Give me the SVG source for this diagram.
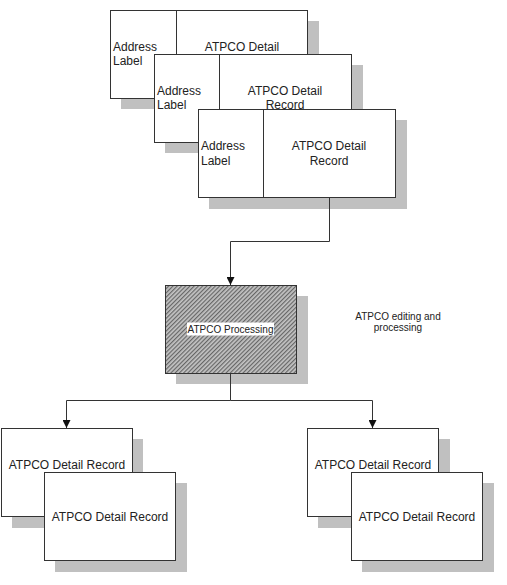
<svg xmlns="http://www.w3.org/2000/svg" width="507" height="585" viewBox="0 0 507 585">
  <defs>
    <style>
      .card { fill: #ffffff; stroke: #333333; stroke-width: 1; }
      .shadow { fill: #c0c0c0; stroke: none; }
      .div { stroke: #333333; stroke-width: 1; }
      .t { font-family: "Liberation Sans", Arial, sans-serif; font-size: 12px; fill: #222222; }
      .ts { font-family: "Liberation Sans", Arial, sans-serif; font-size: 10px; fill: #222222; }
      .wire { fill: none; stroke: #333333; stroke-width: 1; }
    </style>
    <pattern id="hatch" width="3" height="3" patternUnits="userSpaceOnUse" patternTransform="rotate(45)">
      <rect width="3" height="3" fill="#c4c4c4"/>
      <rect width="1.2" height="3" fill="#666666"/>
    </pattern>
    <marker id="arrow" viewBox="0 0 10 10" refX="10" refY="5" markerWidth="8" markerHeight="8" markerUnits="userSpaceOnUse" orient="auto">
      <path d="M0,0 L10,5 L0,10 Z" fill="#111111"/>
    </marker>
  </defs>

  <!-- input record stack -->
  <g id="input-record-1">
    <rect class="shadow" x="121" y="21" width="198" height="88"/>
    <rect class="card" x="110.5" y="10.5" width="197" height="88"/>
    <line class="div" x1="176.5" y1="10.5" x2="176.5" y2="98.5"/>
    <text class="t" x="113" y="51">Address</text>
    <text class="t" x="113" y="65">Label</text>
    <text class="t" x="242" y="51" text-anchor="middle">ATPCO Detail</text>
  </g>
  <g id="input-record-2">
    <rect class="shadow" x="165" y="65" width="198" height="88"/>
    <rect class="card" x="154.5" y="54.5" width="197" height="88"/>
    <line class="div" x1="219.5" y1="54.5" x2="219.5" y2="142.5"/>
    <text class="t" x="157" y="95">Address</text>
    <text class="t" x="157" y="109">Label</text>
    <text class="t" x="285" y="95" text-anchor="middle">ATPCO Detail</text>
    <text class="t" x="285" y="109" text-anchor="middle">Record</text>
  </g>
  <g id="input-record-3">
    <rect class="shadow" x="209" y="120" width="198" height="89"/>
    <rect class="card" x="198.5" y="109.5" width="197" height="88"/>
    <line class="div" x1="263.5" y1="109.5" x2="263.5" y2="197.5"/>
    <text class="t" x="201" y="150">Address</text>
    <text class="t" x="201" y="165">Label</text>
    <text class="t" x="329" y="150" text-anchor="middle">ATPCO Detail</text>
    <text class="t" x="329" y="165" text-anchor="middle">Record</text>
  </g>

  <!-- processing step -->
  <g id="atpco-processing">
    <rect class="shadow" x="176" y="296" width="132" height="88"/>
    <rect x="165.5" y="285.5" width="131" height="88" fill="url(#hatch)" stroke="#333333"/>
    <rect x="187" y="322.5" width="87" height="13" fill="#ffffff"/>
    <text class="ts" x="230.5" y="332.5" text-anchor="middle">ATPCO Processing</text>
  </g>
  <g id="processing-note">
    <text class="ts" x="398" y="320" text-anchor="middle">ATPCO editing and</text>
    <text class="ts" x="398" y="331" text-anchor="middle">processing</text>
  </g>

  <!-- output record stacks -->
  <g id="output-left-1">
    <rect class="shadow" x="12" y="439" width="131" height="89"/>
    <rect class="card" x="1.5" y="428.5" width="131" height="88"/>
    <text class="t" x="67" y="469" text-anchor="middle">ATPCO Detail Record</text>
  </g>
  <g id="output-left-2">
    <rect class="shadow" x="55" y="483" width="132" height="89"/>
    <rect class="card" x="44.5" y="472.5" width="131" height="88"/>
    <text class="t" x="110" y="521" text-anchor="middle">ATPCO Detail Record</text>
  </g>
  <g id="output-right-1">
    <rect class="shadow" x="318" y="439" width="132" height="89"/>
    <rect class="card" x="307.5" y="428.5" width="131" height="88"/>
    <text class="t" x="373" y="469" text-anchor="middle">ATPCO Detail Record</text>
  </g>
  <g id="output-right-2">
    <rect class="shadow" x="362" y="483" width="132" height="89"/>
    <rect class="card" x="351.5" y="472.5" width="131" height="88"/>
    <text class="t" x="417" y="521" text-anchor="middle">ATPCO Detail Record</text>
  </g>

  <!-- connectors -->
  <g id="connectors">
    <path class="wire" d="M329.5,197.5 V241.5 H230.5 V285" marker-end="url(#arrow)"/>
    <path class="wire" d="M230.5,373.5 V400.5 H66.5 V428" marker-end="url(#arrow)"/>
    <path class="wire" d="M230.5,400.5 H372.5 V428" marker-end="url(#arrow)"/>
  </g>
</svg>
